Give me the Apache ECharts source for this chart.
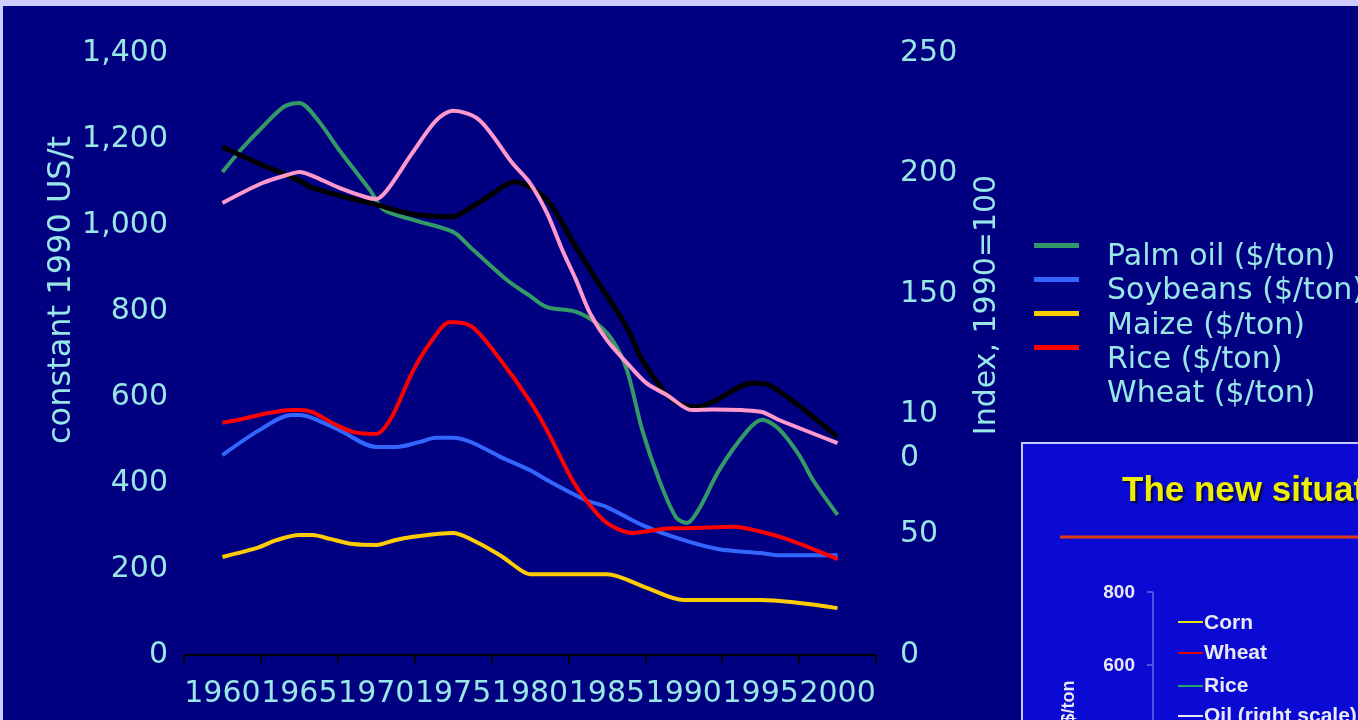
<!DOCTYPE html>
<html>
<head>
<meta charset="utf-8">
<script src="https://cdn.jsdelivr.net/npm/echarts@6/dist/echarts.min.js"></script>
<style>
html,body{margin:0;padding:0;background:#000080;}
#c{width:1358px;height:720px;}
</style>
</head>
<body>
<div id="c"></div>
<script>
// ---- data ----
const years = ['1960','1965','1970','1975','1980','1985','1990','1995','2000'];
const leftTicks = [0,200,400,600,800,1000,1200,1400];
const rightTicks = [0,50,100,150,200,250];

const palmOil = [[1960,1123],[1961.2,1175],[1962.6,1228],[1964,1275],[1965,1284],[1966.2,1244],[1967.6,1174],[1969.6,1081],[1970.5,1035],[1972.4,1012],[1975,984],[1976.1,949],[1978.5,872],[1980,835],[1981.1,809],[1983,798],[1984.3,772],[1985.35,733],[1986.3,663],[1987.3,523],[1988.4,407],[1989.5,320],[1990.2,307],[1991,340],[1992.3,430],[1994.1,520],[1995.1,547],[1996.2,525],[1997.5,465],[1998.4,407],[2000,326]];
const soybeans = [[1960,465],[1962.4,523],[1964.5,558],[1965,558],[1965.85,551],[1967.6,523],[1970,484],[1971.3,484],[1972.8,495],[1973.9,505],[1975,505],[1976.3,493],[1978,462],[1980,430],[1981.1,407],[1983.65,360],[1985,344],[1987.3,302],[1990,267],[1992.3,246],[1995,237],[1996.2,232],[2000,232]];
const maize = [[1960,228],[1962.4,251],[1963.5,267],[1965,279],[1965.85,279],[1967,270],[1968.5,258],[1970,256],[1971.2,267],[1972.2,274],[1975,284],[1976,272],[1978,233],[1979.5,195],[1980,188],[1985,188],[1987.6,156],[1990,128],[1995,128],[2000,109]];
const rice = [[1960,540],[1961.1,547],[1962.6,560],[1964.5,570],[1965,570],[1965.85,565],[1967.4,535],[1968.5,519],[1970,514],[1971,553],[1972.35,658],[1973.65,733],[1974.75,774],[1975,774],[1976.25,763],[1978,690],[1980,590],[1981.1,523],[1982.75,407],[1983.65,360],[1985,307],[1986.65,284],[1989.25,295],[1990,295],[1993.2,298],[1995.1,286],[1996.9,267],[2000,223]];
const wheatIndex = [[1960,211],[1962.6,203.5],[1965,197],[1965.85,194],[1968.1,190],[1970,187],[1972.35,183],[1975,182],[1975.6,183.6],[1977.2,190],[1979,196.5],[1981.1,189],[1982.75,172],[1984.3,156],[1986.3,136],[1987.3,122.5],[1989.25,106],[1990.8,103],[1991.85,105],[1994.5,113],[1995.6,112],[2000,90.5]];
const pinkIndex = [[1960,187.7],[1962.6,196],[1964.55,200],[1965,200.6],[1965.85,199],[1967.6,194],[1969.4,190],[1970,189.4],[1970.7,193],[1972.35,208.5],[1973.9,222],[1975,226],[1976.7,222.2],[1978.85,204.3],[1980,196],[1981.1,183.6],[1982.1,168.2],[1983,155.7],[1983.9,142],[1985,130.8],[1986.3,121.3],[1987.55,113],[1988.9,108],[1990.55,101.7],[1991.85,102],[1995,101],[1996.2,97.6],[2000,88]];

const legendNames = ['Palm oil ($/ton)','Soybeans ($/ton)','Maize ($/ton)','Rice ($/ton)','Wheat ($/ton)'];
const leftName = 'constant 1990 US/t';
const rightName = 'Index, 1990=100';
const insetTitle = 'The new situation';
const insetTicks = ['800','600'];
const insetLegend = ['Corn','Wheat','Rice','Oil (right scale)'];

// ---- styling ----
const TXT = '#99e6e6';
const FONT = 'DejaVu Sans';
const COLORS = ['#339966','#3366ff','#ffcc00','#ff0000','#000000'];

const chart = echarts.init(document.getElementById('c'), null, {renderer:'canvas'});

function line(name, data, color, yIdx, w) {
  return {
    name: name, type: 'line', data: data, xAxisIndex: 1, yAxisIndex: yIdx,
    smooth: 0.3, showSymbol: false, symbol: 'none',
    lineStyle: {color: color, width: w || 4}, itemStyle: {color: color},
    emphasis: {disabled: true}, animation: false
  };
}

const option = {
  backgroundColor: '#000080',
  animation: false,
  textStyle: {fontFamily: FONT},
  grid: {left: 184, right: 482, top: 53, bottom: 65, containLabel: false},
  xAxis: [
    {
      type: 'category', data: years, boundaryGap: true, position: 'bottom',
      axisLine: {show: true, lineStyle: {color: '#000000', width: 2}},
      axisTick: {show: true, length: 8, lineStyle: {color: '#000000', width: 2}},
      axisLabel: {color: TXT, fontSize: 30, fontFamily: FONT, margin: 24, interval: 0, hideOverlap: false},
      splitLine: {show: false}
    },
    {
      type: 'value', min: 1957.5, max: 2002.5, show: false, splitLine: {show: false}
    }
  ],
  yAxis: [
    {
      type: 'value', min: 0, max: 1400, interval: 200, position: 'left',
      axisLine: {show: false}, axisTick: {show: false}, splitLine: {show: false},
      axisLabel: {color: TXT, fontSize: 30, fontFamily: FONT, margin: 16, padding: [6,0,0,0],
        formatter: v => Number(v).toLocaleString('en-US')}
    },
    {
      type: 'value', min: 0, max: 250, interval: 50, position: 'right',
      axisLine: {show: false}, axisTick: {show: false}, splitLine: {show: false},
      axisLabel: {color: TXT, fontSize: 30, fontFamily: FONT, margin: 24, padding: [6,0,0,0],
        formatter: v => (v === 100 ? '10' : String(v))}
    }
  ],
  series: [
    line(legendNames[0], palmOil, COLORS[0], 0),
    line(legendNames[1], soybeans, COLORS[1], 0),
    line(legendNames[2], maize, COLORS[2], 0),
    line(legendNames[3], rice, COLORS[3], 0),
    line(legendNames[4], wheatIndex, COLORS[4], 1, 5),
    line('Index', pinkIndex, '#ff99cc', 1)
  ]
};

chart.setOption(option);

// graphic elements (legend, inset, frame strips, axis names)
const y100 = chart.convertToPixel({yAxisIndex: 1}, 100);
const G = [
  {id:'topstrip', type:'rect', shape:{x:0,y:0,width:1358,height:6}, style:{fill:'#ccccff'}, silent:true, z:100},
  {id:'leftstrip', type:'rect', shape:{x:0,y:0,width:3,height:720}, style:{fill:'#ccccff'}, silent:true, z:100},
  {id:'lname', type:'text', x:62, y:290, rotation:Math.PI/2,
    style:{text:leftName, fill:TXT, font:'32px "DejaVu Sans"', textAlign:'center', textVerticalAlign:'middle'}},
  {id:'rname', type:'text', x:987, y:305, rotation:Math.PI/2,
    style:{text:rightName, fill:TXT, font:'30px "DejaVu Sans"', textAlign:'center', textVerticalAlign:'middle'}},
  {id:'wrap0', type:'text', x:900, y:y100 + 44,
    style:{text:'0', fill:TXT, font:'30px "DejaVu Sans"', textAlign:'left', textVerticalAlign:'middle'}}
];
// legend (wheat swatch is black on navy and not visible in the reference)
legendNames.forEach((n, i) => {
  if (i < 4) {
    G.push({id:'lgs'+i, type:'rect', shape:{x:1034, y:243 + 34*i, width:45, height:5}, style:{fill:COLORS[i]}});
  }
  G.push({id:'lgt'+i, type:'text', x:1107, y:257.5 + 34.2*i,
    style:{text:n, fill:TXT, font:'30px "DejaVu Sans"', textAlign:'left', textVerticalAlign:'middle'}});
});
G.push({id:'inset', type:'group', z:50, children:[
    {type:'rect', shape:{x:1022,y:443,width:400,height:300}, style:{fill:'#0a0ad2', stroke:'#c8c8ff', lineWidth:2}},
    {type:'text', x:1122, y:491, style:{text:insetTitle, fill:'#eeee00', font:'bold 35px "Liberation Sans"', textAlign:'left', textVerticalAlign:'middle', textShadowColor:'rgba(0,0,0,0.7)', textShadowOffsetX:2, textShadowOffsetY:2, textShadowBlur:2}},
    {type:'line', shape:{x1:1060,y1:537,x2:1360,y2:537}, style:{stroke:'#e23a12', lineWidth:3}},
    {type:'line', shape:{x1:1153,y1:592,x2:1153,y2:722}, style:{stroke:'#4f4fe6', lineWidth:2}},
    {type:'line', shape:{x1:1147,y1:592,x2:1153,y2:592}, style:{stroke:'#4f4fe6', lineWidth:2}},
    {type:'line', shape:{x1:1147,y1:665,x2:1153,y2:665}, style:{stroke:'#4f4fe6', lineWidth:2}},
    {type:'text', x:1135, y:593, style:{text:insetTicks[0], fill:'#e8e8f4', font:'bold 19px "Liberation Sans"', textAlign:'right', textVerticalAlign:'middle'}},
    {type:'text', x:1135, y:666, style:{text:insetTicks[1], fill:'#e8e8f4', font:'bold 19px "Liberation Sans"', textAlign:'right', textVerticalAlign:'middle'}},
    {type:'text', x:1069, y:702, rotation:Math.PI/2, style:{text:'$/ton', fill:'#e8e8f4', font:'bold 18px "Liberation Sans"', textAlign:'center', textVerticalAlign:'middle'}},
    {type:'line', shape:{x1:1178,y1:622,x2:1203,y2:622}, style:{stroke:'#e6e600', lineWidth:2}},
    {type:'text', x:1204, y:623, style:{text:insetLegend[0], fill:'#e8e8f4', font:'bold 21px "Liberation Sans"', textAlign:'left', textVerticalAlign:'middle'}},
    {type:'line', shape:{x1:1178,y1:653,x2:1203,y2:653}, style:{stroke:'#e00000', lineWidth:2}},
    {type:'text', x:1204, y:653, style:{text:insetLegend[1], fill:'#e8e8f4', font:'bold 21px "Liberation Sans"', textAlign:'left', textVerticalAlign:'middle'}},
    {type:'line', shape:{x1:1178,y1:686,x2:1203,y2:686}, style:{stroke:'#22aa66', lineWidth:2}},
    {type:'text', x:1204, y:686, style:{text:insetLegend[2], fill:'#e8e8f4', font:'bold 21px "Liberation Sans"', textAlign:'left', textVerticalAlign:'middle'}},
    {type:'line', shape:{x1:1178,y1:716,x2:1203,y2:716}, style:{stroke:'#e8e8f4', lineWidth:2}},
    {type:'text', x:1204, y:716, style:{text:insetLegend[3], fill:'#e8e8f4', font:'bold 21px "Liberation Sans"', textAlign:'left', textVerticalAlign:'middle'}}
]});
chart.setOption({graphic: {elements: G}});
</script>
</body>
</html>
